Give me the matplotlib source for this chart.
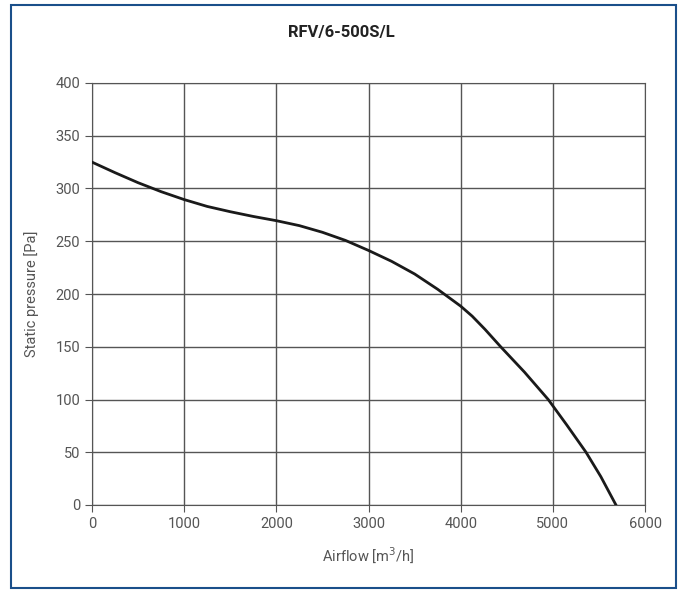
import matplotlib.pyplot as plt
from matplotlib.patches import Rectangle

airflow = [0, 250, 500, 750, 1000, 1250, 1500, 1750, 2000, 2250, 2500, 2750,
           3000, 3250, 3500, 3750, 4000, 4125, 4264, 4434, 4692, 4950, 5150, 5360, 5520, 5685]
pressure = [325, 315, 305.5, 297, 289.5, 283, 278, 273.5, 269.5, 264.8, 258.5, 250.8,
            241.3, 231, 219, 204.5, 188.5, 179, 166.5, 150, 126, 100, 76, 50, 27, 0]

xticks = [0, 1000, 2000, 3000, 4000, 5000, 6000]
yticks = [0, 50, 100, 150, 200, 250, 300, 350, 400]

plt.rcParams['font.family'] = ['Roboto', 'DejaVu Sans']

fig = plt.figure(figsize=(6.83, 5.90), dpi=100)
ax = fig.add_axes([92 / 683, 85 / 590, 553 / 683, 422 / 590])

ax.plot(airflow, pressure, color="#1a1a1a", linewidth=2.0, zorder=3,
        solid_joinstyle="round")

ax.set_xlim(0, 6000)
ax.set_ylim(0, 400)
ax.set_xticks(xticks)
ax.set_yticks(yticks)
ax.grid(True, color="#555555", linewidth=1.0)
for s in ax.spines:
    ax.spines[s].set_color("#555555")
ax.tick_params(direction="out", length=5, color="#555555", labelcolor="#555555", labelsize=10.5)

ax.set_xlabel("Airflow [m$^3$/h]", fontsize=10.5, color="#555555", labelpad=10)
ax.set_ylabel("Static pressure [Pa]", fontsize=10.5, color="#555555", labelpad=12)
fig.text(0.5, 1 - 33 / 590, "RFV/6-500S/L", ha="center", va="center",
         fontsize=12, fontweight="bold", color="#222222")

fig.patches.append(Rectangle((11 / 683, 2 / 590), 665 / 683, 583 / 590, transform=fig.transFigure,
                             fill=False, edgecolor="#1a4f8a", linewidth=1.5))

fig.savefig("out.png", dpi=100)
